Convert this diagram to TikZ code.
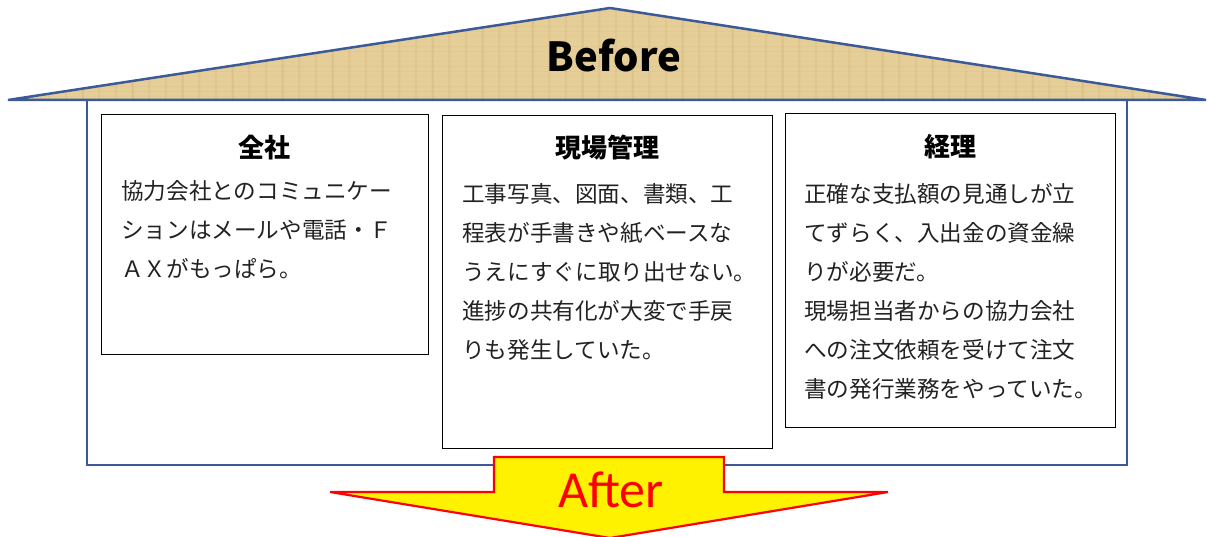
\documentclass[tikz,border=0pt]{standalone}
\usepackage{fontspec}
\newfontfamily\jp{Noto Sans CJK JP}
\newfontfamily\afterfont{Carlito}
\definecolor{roofblue}{HTML}{3C5A98}
\definecolor{rooftan}{HTML}{E6CE98}
\definecolor{rooftanD}{HTML}{C9A86A}
\definecolor{txt}{HTML}{222222}
\begin{document}
\begin{tikzpicture}[x=1pt,y=-1pt,
  box/.style={draw=black, line width=1.4pt, fill=white, inner sep=0pt, anchor=north west},
  ttl/.style={font={\jp\bfseries\fontsize{26}{30}\selectfont}, text=black, inner sep=0pt, anchor=base},
  body/.style={font={\jp\fontsize{22.6}{39}\selectfont}, text=txt, align=left, inner sep=0pt, anchor=north west},
]
\useasboundingbox (0,0) rectangle (1208,537);
% body of the house
\draw[roofblue, line width=2.2pt] (87,100) rectangle (1127,465);
% roof
\fill[rooftan] (8,100) -- (610,8) -- (1206,100) -- cycle;
\begin{scope}
  \clip (8,100) -- (610,8) -- (1206,100) -- cycle;
  \foreach \i in {0,...,120} {
    \pgfmathsetmacro{\xx}{10*\i+3*mod(\i*7,5)}
    \pgfmathsetmacro{\op}{0.06+0.04*mod(\i*13,5)}
    \draw[rooftanD, opacity=\op, line width=1.2pt] (\xx,0) -- (\xx,100);
  }
  \foreach \j in {0,...,20} {
    \pgfmathsetmacro{\yy}{5*\j+2}
    \pgfmathsetmacro{\op}{0.05+0.03*mod(\j*7,4)}
    \draw[rooftanD, opacity=\op, line width=1pt] (0,\yy) -- (1208,\yy);
  }
\end{scope}
\draw[roofblue, line width=2.5pt, line join=miter] (8,100) -- (610,8) -- (1206,100) -- cycle;
\node[font={\jp\bfseries\fontsize{40}{42}\selectfont}, inner sep=0pt, anchor=base] (before) at (614,72) {Before};
% boxes
\node[box, minimum width=327pt, minimum height=240pt] (b1) at (101,114) {};
\node[box, minimum width=330pt, minimum height=333pt] (b2) at (442,115) {};
\node[box, minimum width=330pt, minimum height=314pt] (b3) at (785,113) {};
\node[ttl] (t1) at (264,158) {全社};
\node[ttl] (t2) at (607,158) {現場管理};
\node[ttl] (t3) at (950,157) {経理};
\node[body] (x1) at (121,180) {協力会社とのコミュニケー\\ションはメールや電話・Ｆ\\ＡＸがもっぱら。};
\node[body] (x2) at (462,183) {工事写真、図面、書類、工\\程表が手書きや紙ベースな\\うえにすぐに取り出せない。\\進捗の共有化が大変で手戻\\りも発生していた。};
\node[body] (x3) at (804,183) {正確な支払額の見通しが立\\てずらく、入出金の資金繰\\りが必要だ。\\現場担当者からの協力会社\\への注文依頼を受けて注文\\書の発行業務をやっていた。};
% arrow
\path[fill=yellow, draw=red, line width=2.2pt, line join=miter]
  (494,457) -- (724,457) -- (724,492) -- (888,492) -- (610,538) -- (330,492) -- (494,492) -- cycle;
\node[font={\afterfont\fontsize{52}{56}\selectfont}, text=red, inner sep=0pt, anchor=base] (after) at (611,507) {After};
\end{tikzpicture}
\end{document}
